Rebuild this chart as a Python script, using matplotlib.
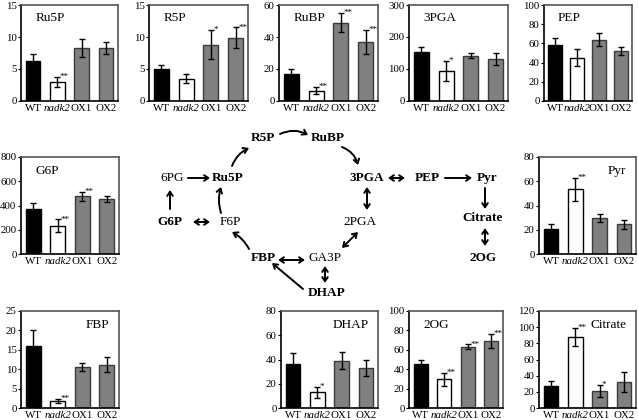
import matplotlib
matplotlib.use('Agg')
from matplotlib import pyplot as plt

plt.rcParams['font.family'] = ['Liberation Serif', 'DejaVu Serif']

# 基因型
genotypes = ['WT', 'nadk2', 'OX1', 'OX2']

# 各代谢物的平均值、误差和显著性
ru5p = [6.3, 3.0, 8.3, 8.3]
ru5p_err = [1.1, 0.8, 1.4, 0.9]
ru5p_sig = ['', '**', '', '']

r5p = [5.0, 3.5, 8.8, 9.9]
r5p_err = [0.7, 0.7, 2.3, 1.6]
r5p_sig = ['', '', '*', '**']

rubp = [17, 6.5, 49, 37]
rubp_err = [2.7, 2.3, 6.0, 7.5]
rubp_sig = ['', '**', '**', '**']

pga3 = [153, 94, 142, 131]
pga3_err = [15, 30, 7, 20]
pga3_sig = ['', '*', '', '']

pep = [58, 45, 64, 52]
pep_err = [8, 9, 6.5, 4.5]
pep_sig = ['', '', '', '']

g6p = [375, 235, 475, 455]
g6p_err = [45, 50, 35, 25]
g6p_sig = ['', '**', '**', '']

pyr = [20.5, 53.5, 29.5, 24.5]
pyr_err = [4, 9.5, 3.5, 3.5]
pyr_sig = ['', '**', '', '']

fbp = [16, 1.8, 10.5, 11.2]
fbp_err = [4.2, 0.6, 1.0, 2.0]
fbp_sig = ['', '**', '', '']

dhap = [36, 13, 39, 33]
dhap_err = [9, 4.5, 7, 6.5]
dhap_sig = ['', '*', '', '']

og2 = [45, 29.5, 63, 69]
og2_err = [4, 7, 2.5, 7]
og2_sig = ['', '**', '**', '**']

citrate = [27, 88, 21, 32]
citrate_err = [6, 11, 7, 12]
citrate_sig = ['', '**', '*', '']

W, H = 638, 420
fig = plt.figure(figsize=(W / 100, H / 100), dpi=100)


def px(x, y):
    # 像素坐标 -> 图形坐标
    return x / W, 1 - y / H


def panel(box, name, vals, errs, sigs, ymax, step, title_right=False):
    l, t, r, b = box
    ax = fig.add_axes([l / W, 1 - b / H, (r - l) / W, (b - t) / H])
    x = range(4)
    colors = ['black', 'white', '#808080', '#808080']
    edges = ['black', 'black', '#3a3a3a', '#3a3a3a']
    ax.bar(x, vals, width=0.6, color=colors, edgecolor=edges, linewidth=1, zorder=2)
    ax.errorbar(x, vals, yerr=errs, fmt='none', ecolor='black', elinewidth=1,
                capsize=2.5, capthick=1, zorder=3)
    for i in x:
        if sigs[i]:
            ax.text(i + 0.1, vals[i] + errs[i], sigs[i], fontsize=6.5,
                    ha='left', va='center')
    ax.set_xlim(-0.5, 3.5)
    ax.set_ylim(0, ymax)
    ax.set_yticks(range(0, int(ymax) + 1, step))
    ax.set_xticks(list(x))
    ax.set_xticklabels(genotypes)
    ax.get_xticklabels()[1].set_style('italic')
    ax.tick_params(axis='both', labelsize=7.8, length=2, pad=1.2, width=0.8)
    ax.tick_params(axis='x', length=0, pad=2.5)
    for s in ['top', 'right']:
        ax.spines[s].set_color('#555555')
    for s in ax.spines.values():
        s.set_linewidth(1.2)
    if title_right:
        ax.text(0.9, 0.86, name, transform=ax.transAxes, fontsize=9.5,
                ha='right', va='center')
    else:
        ax.text(0.15, 0.86, name, transform=ax.transAxes, fontsize=9.5,
                ha='left', va='center')
    return ax


panel((21, 5, 118, 101), 'Ru5P', ru5p, ru5p_err, ru5p_sig, 15, 5)
panel((149, 5, 248, 101), 'R5P', r5p, r5p_err, r5p_sig, 15, 5)
panel((279, 5, 378, 101), 'RuBP', rubp, rubp_err, rubp_sig, 60, 20)
panel((409, 5, 508, 101), '3PGA', pga3, pga3_err, pga3_sig, 300, 100)
panel((544, 5, 632, 101), 'PEP', pep, pep_err, pep_sig, 100, 20)
panel((21, 157, 119, 254), 'G6P', g6p, g6p_err, g6p_sig, 800, 200)
panel((539, 157, 636, 254), 'Pyr', pyr, pyr_err, pyr_sig, 80, 20, title_right=True)
panel((21, 311, 119, 408), 'FBP', fbp, fbp_err, fbp_sig, 25, 5, title_right=True)
panel((281, 311, 378, 408), 'DHAP', dhap, dhap_err, dhap_sig, 80, 20, title_right=True)
panel((409, 311, 503, 408), '2OG', og2, og2_err, og2_sig, 100, 20)
panel((539, 311, 636, 408), 'Citrate', citrate, citrate_err, citrate_sig, 120, 20,
      title_right=True)

# 中间的代谢通路图
labels = [
    ('R5P', 263, 138, True), ('RuBP', 328, 138, True),
    ('6PG', 172, 178, False), ('Ru5P', 228, 178, True),
    ('3PGA', 367, 178, True), ('PEP', 427, 178, True), ('Pyr', 487, 178, True),
    ('G6P', 170, 222, True), ('F6P', 230, 222, False),
    ('2PGA', 360, 222, False), ('Citrate', 483, 218, True),
    ('FBP', 263, 258, True), ('GA3P', 325, 258, False), ('2OG', 483, 258, True),
    ('DHAP', 327, 293, True),
]
for name, x, y, bold in labels:
    fig.text(*px(x, y), name, fontsize=9.5, ha='center', va='center',
             weight='bold' if bold else 'normal')

arrows = [
    # (起点, 终点, 样式, 弯曲)
    ((280, 134), (308, 135), '->', -0.25),
    ((342, 147), (358, 165), '->', -0.25),
    ((232, 166), (249, 148), '->', -0.2),
    ((188, 178), (210, 178), '->', 0),
    ((170, 209), (170, 190), '->', 0),
    ((193, 222), (210, 222), '<->', 0),
    ((221, 213), (221, 187), '->', -0.15),
    ((249, 249), (232, 232), '->', 0.15),
    ((278, 260), (305, 260), '<->', 0),
    ((342, 248), (358, 232), '<->', 0),
    ((367, 210), (367, 187), '<->', 0),
    ((325, 266), (325, 283), '<->', 0),
    ((303, 289), (272, 263), '->', 0),
    ((388, 178), (405, 178), '<->', 0),
    ((445, 178), (472, 178), '->', 0),
    ((485, 188), (485, 209), '->', 0),
    ((485, 228), (485, 246), '<->', 0),
]
for start, end, style, rad in arrows:
    fig.add_artist(matplotlib.patches.FancyArrowPatch(
        px(*start), px(*end), transform=fig.transFigure,
        arrowstyle=style + ',head_length=3,head_width=2',
        connectionstyle='arc3,rad={}'.format(rad),
        color='black', linewidth=1.4, shrinkA=0, shrinkB=0))

fig.savefig('out.png', dpi=100)
